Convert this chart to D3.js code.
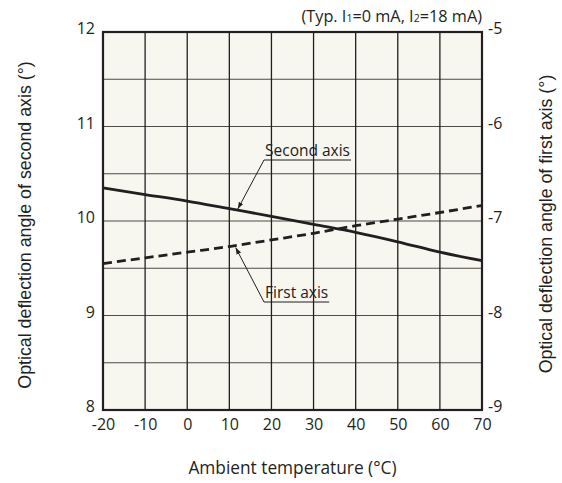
<!DOCTYPE html>
<html>
<head>
<meta charset="utf-8">
<script src="https://cdn.jsdelivr.net/npm/d3@7"></script>
<style>
  html, body { margin: 0; padding: 0; background: #ffffff; }
  svg { display: block; }
  .tick-label { font-family: "Open Sans", "DejaVu Sans", sans-serif; font-size: 16px; fill: #231f20; }
  .axis-title { font-family: "Liberation Sans", Arial, sans-serif; font-size: 17.8px; fill: #231f20; }
  .x-title { font-family: "Open Sans", "DejaVu Sans", sans-serif; font-size: 17.3px; fill: #231f20; }
  .callout { font-family: "Open Sans", "DejaVu Sans", sans-serif; font-size: 15.5px; fill: #231f20; }
  .note { font-family: "Open Sans", "DejaVu Sans", sans-serif; font-size: 16.3px; fill: #231f20; }
</style>
</head>
<body>
<svg id="chart" width="562" height="483"></svg>
<script>
// Ambient temperature (°C)
const temperatures = [-20, -10, 0, 10, 20, 30, 40, 50, 60, 70];
// Optical deflection angle of second axis (°), left scale
const secondAxisAngle = [10.35, 10.28, 10.21, 10.13, 10.05, 9.965, 9.88, 9.78, 9.67, 9.58];
// Optical deflection angle of first axis (°), right scale
const firstAxisAngle = [-7.45, -7.39, -7.33, -7.27, -7.20, -7.13, -7.05, -6.98, -6.91, -6.835];

const xTicks = [-20, -10, 0, 10, 20, 30, 40, 50, 60, 70];
const leftTicks = [8, 9, 10, 11, 12];
const rightTicks = [-9, -8, -7, -6, -5];
const gridY = [8.5, 9, 9.5, 10, 10.5, 11, 11.5];

const margin = { left: 103, top: 32, right: 80, bottom: 73 };
const W = 562, H = 483;
const pw = W - margin.left - margin.right;
const ph = H - margin.top - margin.bottom;

const svg = d3.select("#chart");
const g = svg.append("g").attr("transform", `translate(${margin.left},${margin.top})`);

const x = d3.scaleLinear().domain([-20, 70]).range([0, pw]);
const yL = d3.scaleLinear().domain([8, 12]).range([ph, 0]);
const yR = d3.scaleLinear().domain([-9, -5]).range([ph, 0]);

// integer labels with a plain hyphen for negatives
const fmt = d => String(d);

// plot background
g.append("rect").attr("width", pw).attr("height", ph).attr("fill", "#f7f6ef");

// grid
g.append("g").selectAll("line").data(gridY).join("line")
  .attr("x1", 0).attr("x2", pw)
  .attr("y1", d => yL(d)).attr("y2", d => yL(d))
  .attr("stroke", "#4f4a47").attr("stroke-width", 1.2);
g.append("g").selectAll("line").data(xTicks.slice(1, -1)).join("line")
  .attr("y1", 0).attr("y2", ph)
  .attr("x1", d => x(d)).attr("x2", d => x(d))
  .attr("stroke", "#231f20").attr("stroke-width", 1.3);

// data lines
const lineL = d3.line().x((d, i) => x(temperatures[i])).y(d => yL(d)).curve(d3.curveMonotoneX);
const lineR = d3.line().x((d, i) => x(temperatures[i])).y(d => yR(d)).curve(d3.curveMonotoneX);

g.append("path").datum(secondAxisAngle).attr("d", lineL)
  .attr("fill", "none").attr("stroke", "#231f20").attr("stroke-width", 2.8);
g.append("path").datum(firstAxisAngle).attr("d", lineR)
  .attr("fill", "none").attr("stroke", "#231f20").attr("stroke-width", 2.8)
  .attr("stroke-dasharray", "9,5");

// frame
g.append("rect").attr("width", pw).attr("height", ph)
  .attr("fill", "none").attr("stroke", "#231f20").attr("stroke-width", 2.2);

// axes (labels only; the frame draws the spines)
const axBottom = g.append("g").attr("transform", `translate(0,${ph})`)
  .call(d3.axisBottom(x).tickValues(xTicks).tickSize(0).tickPadding(9).tickFormat(fmt));
const axLeft = g.append("g")
  .call(d3.axisLeft(yL).tickValues(leftTicks).tickSize(0).tickPadding(8).tickFormat(fmt));
const axRight = g.append("g").attr("transform", `translate(${pw},0)`)
  .call(d3.axisRight(yR).tickValues(rightTicks).tickSize(0).tickPadding(6).tickFormat(fmt));
[axBottom, axLeft, axRight].forEach(a => {
  a.select(".domain").remove();
  a.selectAll("text").attr("class", "tick-label").attr("fill", null);
});
axLeft.selectAll("text").attr("dy", "0.1em");
axRight.selectAll("text").attr("dy", "0.1em");

// axis titles
svg.append("text").attr("class", "x-title")
  .attr("x", margin.left + pw / 2).attr("y", 474).attr("text-anchor", "middle")
  .text("Ambient temperature (°C)");
svg.append("text").attr("class", "axis-title")
  .attr("transform", `translate(31,${margin.top + ph / 2 + 4}) rotate(-90)`)
  .attr("text-anchor", "middle").text("Optical deflection angle of second axis (°)");
svg.append("text").attr("class", "axis-title")
  .attr("transform", `translate(552,${margin.top + ph / 2 + 3}) rotate(-90)`)
  .attr("text-anchor", "middle").text("Optical deflection angle of first axis (°)");

// condition note
const note = svg.append("text").attr("class", "note")
  .attr("x", margin.left + pw).attr("y", 22).attr("text-anchor", "end");
note.append("tspan").text("(Typ. I");
note.append("tspan").attr("font-size", "10.5px").text("1");
note.append("tspan").text("=0 mA, I");
note.append("tspan").attr("font-size", "10.5px").text("2");
note.append("tspan").text("=18 mA)");

// callouts
const defs = svg.append("defs");
defs.append("marker").attr("id", "arrow").attr("viewBox", "0 0 10 10")
  .attr("refX", 10).attr("refY", 5).attr("markerWidth", 7).attr("markerHeight", 7)
  .attr("markerUnits", "userSpaceOnUse").attr("orient", "auto")
  .append("path").attr("d", "M0,1.5 L10,5 L0,8.5 Z").attr("fill", "#231f20");

function callout(label, tx, ty, targetT, targetV, scale) {
  const t = g.append("text").attr("class", "callout").attr("x", tx).attr("y", ty).text(label);
  const w = t.node().getComputedTextLength();
  g.append("line").attr("x1", tx - 1).attr("x2", tx + w + 1).attr("y1", ty + 4).attr("y2", ty + 4)
    .attr("stroke", "#231f20").attr("stroke-width", 1);
  const off = ty > scale(targetV) ? 1.5 : -1.5;
  g.append("line").attr("x1", tx - 1).attr("y1", ty + 4)
    .attr("x2", x(targetT)).attr("y2", scale(targetV) + off)
    .attr("stroke", "#231f20").attr("stroke-width", 1).attr("marker-end", "url(#arrow)");
}
// second axis callout points at the solid line near 12 °C
callout("Second axis", 162, 124, 12, 10.11, yL);
// first axis callout points at the dashed line near 11.5 °C
callout("First axis", 162, 266, 11.5, -7.265, yR);
</script>
</body>
</html>
